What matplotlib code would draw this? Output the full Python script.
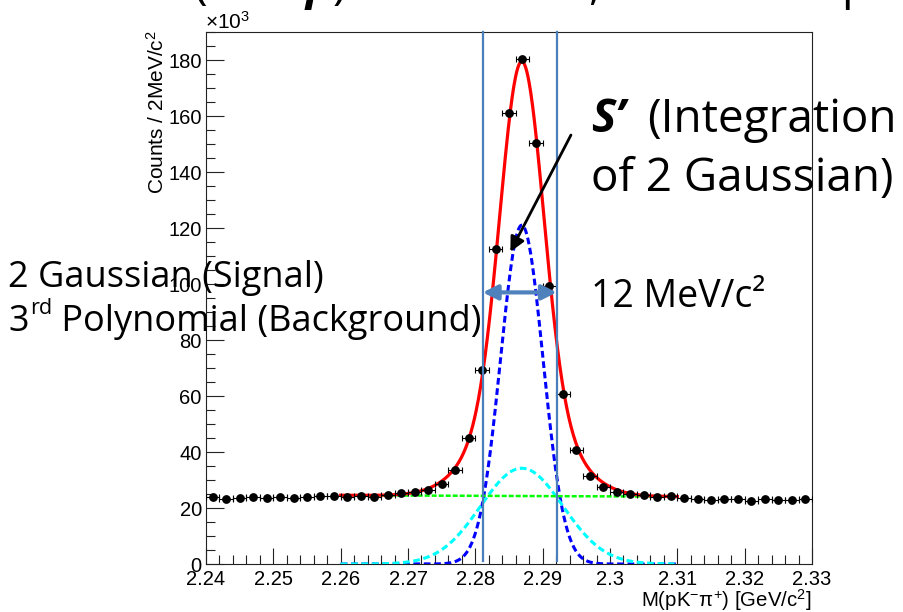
import numpy as np
import matplotlib
matplotlib.use("Agg")
import matplotlib.pyplot as plt
from matplotlib.ticker import MultipleLocator, FixedLocator, FixedFormatter

# ---------------- data (counts in units of 10^3 per 2 MeV/c^2) ----------------
mass = [2.241, 2.243, 2.245, 2.247, 2.249, 2.251, 2.253, 2.255, 2.257, 2.259,
        2.261, 2.263, 2.265, 2.267, 2.269, 2.271, 2.273, 2.275, 2.277, 2.279,
        2.281, 2.283, 2.285, 2.287, 2.289, 2.291, 2.293, 2.295, 2.297, 2.299,
        2.301, 2.303, 2.305, 2.307, 2.309, 2.311, 2.313, 2.315, 2.317, 2.319,
        2.321, 2.323, 2.325, 2.327, 2.329]
counts = [23.8, 23.2, 23.4, 23.8, 23.4, 23.8, 23.4, 23.8, 24.3, 24.3,
          24.0, 24.3, 24.0, 24.6, 25.2, 25.6, 26.4, 28.6, 33.6, 45.1,
          69.3, 112.4, 161.2, 180.3, 150.4, 99.4, 60.7, 40.7, 31.5, 27.6,
          25.8, 25.0, 24.6, 23.8, 24.3, 23.6, 23.3, 22.9, 23.1, 23.1,
          22.5, 23.1, 22.9, 22.9, 23.1]
bin_half_width = 0.001

# fit components
fit_range = (2.26, 2.31)
gaus1 = dict(amp=121.0, mean=2.2869, sigma=0.00315)   # narrow Gaussian (blue)
gaus2 = dict(amp=34.2, mean=2.2869, sigma=0.0061)     # wide Gaussian (cyan)
bkg_ref = 2.285
bkg_coef = [24.3, -10.0, 0.0, 0.0]                    # 3rd-order polynomial (green)

window = (2.2811, 2.2921)                             # +-6 MeV integration window
xticks = [2.24, 2.25, 2.26, 2.27, 2.28, 2.29, 2.30, 2.31, 2.32, 2.33]
xtick_labels = ["2.24", "2.25", "2.26", "2.27", "2.28", "2.29", "2.3", "2.31", "2.32", "2.33"]
yticks = [0, 20, 40, 60, 80, 100, 120, 140, 160, 180]
ytick_labels = [str(v) for v in yticks]

# ---------------- style ----------------
plt.rcParams["mathtext.fontset"] = "custom"
plt.rcParams["mathtext.rm"] = "Liberation Sans"
plt.rcParams["mathtext.it"] = "Liberation Sans:italic"
plt.rcParams["mathtext.bf"] = "Liberation Sans:bold"
ROOT_FONT = ["Liberation Sans", "DejaVu Sans"]
ANN_FONT = ["Open Sans", "DejaVu Sans"]

W, H = 904, 612
fig = plt.figure(figsize=(W / 100, H / 100), dpi=100)
fig.patch.set_facecolor("white")
ax = fig.add_axes([206 / W, (H - 564) / H, 606 / W, 532 / H])
ax.set_xlim(2.24, 2.33)
ax.set_ylim(0, 190)


def gauss(x, p):
    return p["amp"] * np.exp(-0.5 * ((x - p["mean"]) / p["sigma"]) ** 2)


def bkg(x):
    t = x - bkg_ref
    return sum(c * t ** i for i, c in enumerate(bkg_coef))


xf = np.linspace(fit_range[0], fit_range[1], 600)
g1 = gauss(xf, gaus1)
g2 = gauss(xf, gaus2)
b = bkg(xf)
tot = g1 + g2 + b

ax.plot(xf, g1, color="#0000ff", lw=2.2, ls=(0, (2.2, 1.2)), zorder=3)
ax.plot(xf, g2, color="#00ffff", lw=2.2, ls=(0, (2.2, 1.2)), zorder=3)
ax.plot(xf, b, color="#00ff00", lw=1.8, ls=(0, (2.0, 0.8)), zorder=3)
ax.plot(xf, tot, color="#ff0000", lw=2.3, zorder=4)

ax.errorbar(mass, counts, xerr=bin_half_width, fmt="o", color="black",
            ms=5.3, elinewidth=0.8, capsize=2, capthick=0.8, zorder=5)

# integration window
for xv in window:
    ax.axvline(xv, ymin=0.005, ymax=1.0, color="#4a7ebb", lw=1.6, zorder=6, clip_on=False)
ax.annotate("", xy=(window[0], 97), xytext=(window[1], 97),
            arrowprops=dict(arrowstyle="<|-|>", color="#4f81bd", lw=3,
                            mutation_scale=22, shrinkA=0, shrinkB=0), zorder=7)
# black arrow
ax.annotate("", xy=(2.2852, 111.5), xytext=(2.2942, 153.2),
            arrowprops=dict(arrowstyle="-|>", color="black", lw=2,
                            mutation_scale=22, shrinkA=0, shrinkB=0), zorder=7)

# axes styling
for s in ax.spines.values():
    s.set_linewidth(0.8)
    s.set_color("#222222")
ax.xaxis.set_major_locator(FixedLocator(xticks))
ax.xaxis.set_major_formatter(FixedFormatter(xtick_labels))
ax.xaxis.set_minor_locator(MultipleLocator(0.002))
ax.yaxis.set_major_locator(FixedLocator(yticks))
ax.yaxis.set_major_formatter(FixedFormatter(ytick_labels))
ax.yaxis.set_minor_locator(MultipleLocator(5))
ax.tick_params(which="both", direction="in", top=False, right=False, color="#222222", width=0.8)
ax.tick_params(axis="y", which="major", length=13, pad=3, labelsize=14.5)
ax.tick_params(axis="y", which="minor", length=6.5)
ax.tick_params(axis="x", which="major", length=11.5, pad=4, labelsize=14.5)
ax.tick_params(axis="x", which="minor", length=6.5)
for lab in ax.get_xticklabels() + ax.get_yticklabels():
    lab.set_family(ROOT_FONT)


def fx(px):
    return px / W


def fy(py):
    return 1 - py / H


# axis titles
fig.text(fx(812), fy(607), r"M(pK$^{-}\mathrm{\pi}^{+}$) [GeV/c$^{2}$]", ha="right", va="baseline",
         fontsize=14.7, family=ROOT_FONT)
fig.text(fx(168), fy(30), r"Counts / 2MeV/c$^{2}$", rotation=90, ha="right", va="top",
         fontsize=15, family=ROOT_FONT)
fig.text(fx(205), fy(29), r"$\times$10$^{3}$", ha="left", va="baseline", fontsize=15, family=ROOT_FONT)

# annotation texts
ANN = 26
fig.text(fx(8), fy(287), "2 Gaussian (Signal)", ha="left", va="baseline", fontsize=ANN, family=ANN_FONT, zorder=10)
fig.text(fx(8), fy(331), "3", ha="left", va="baseline", fontsize=ANN, family=ANN_FONT, zorder=10)
fig.text(fx(30), fy(314), "rd", ha="left", va="baseline", fontsize=ANN * 0.6, family=ANN_FONT, zorder=10)
fig.text(fx(52), fy(331), " Polynomial (Background)", ha="left", va="baseline", fontsize=ANN, family=ANN_FONT, zorder=10)

BIG = 33
fig.text(fx(591), fy(132), "S\u2019", ha="left", va="baseline", fontsize=BIG, family=ANN_FONT,
         weight="bold", style="italic", zorder=10)
fig.text(fx(647), fy(132), "(Integration", ha="left", va="baseline", fontsize=BIG, family=ANN_FONT, zorder=10)
fig.text(fx(591), fy(191), "of 2 Gaussian)", ha="left", va="baseline", fontsize=BIG, family=ANN_FONT, zorder=10)
fig.text(fx(591), fy(307), "12 MeV/c\u00b2", ha="left", va="baseline", fontsize=27, family=ANN_FONT, zorder=10)

# clipped line of slide text at the very top
for px, s, kw in [(193, "(", {}), (306, "p", {"weight": "bold", "style": "italic"}),
                  (333, ")", {}), (588, ",", {}), (841, "p", {})]:
    fig.text(fx(px), fy(-1), s, ha="left", va="baseline", fontsize=BIG, family=ANN_FONT, **kw)

fig.savefig("out.png", dpi=100)
